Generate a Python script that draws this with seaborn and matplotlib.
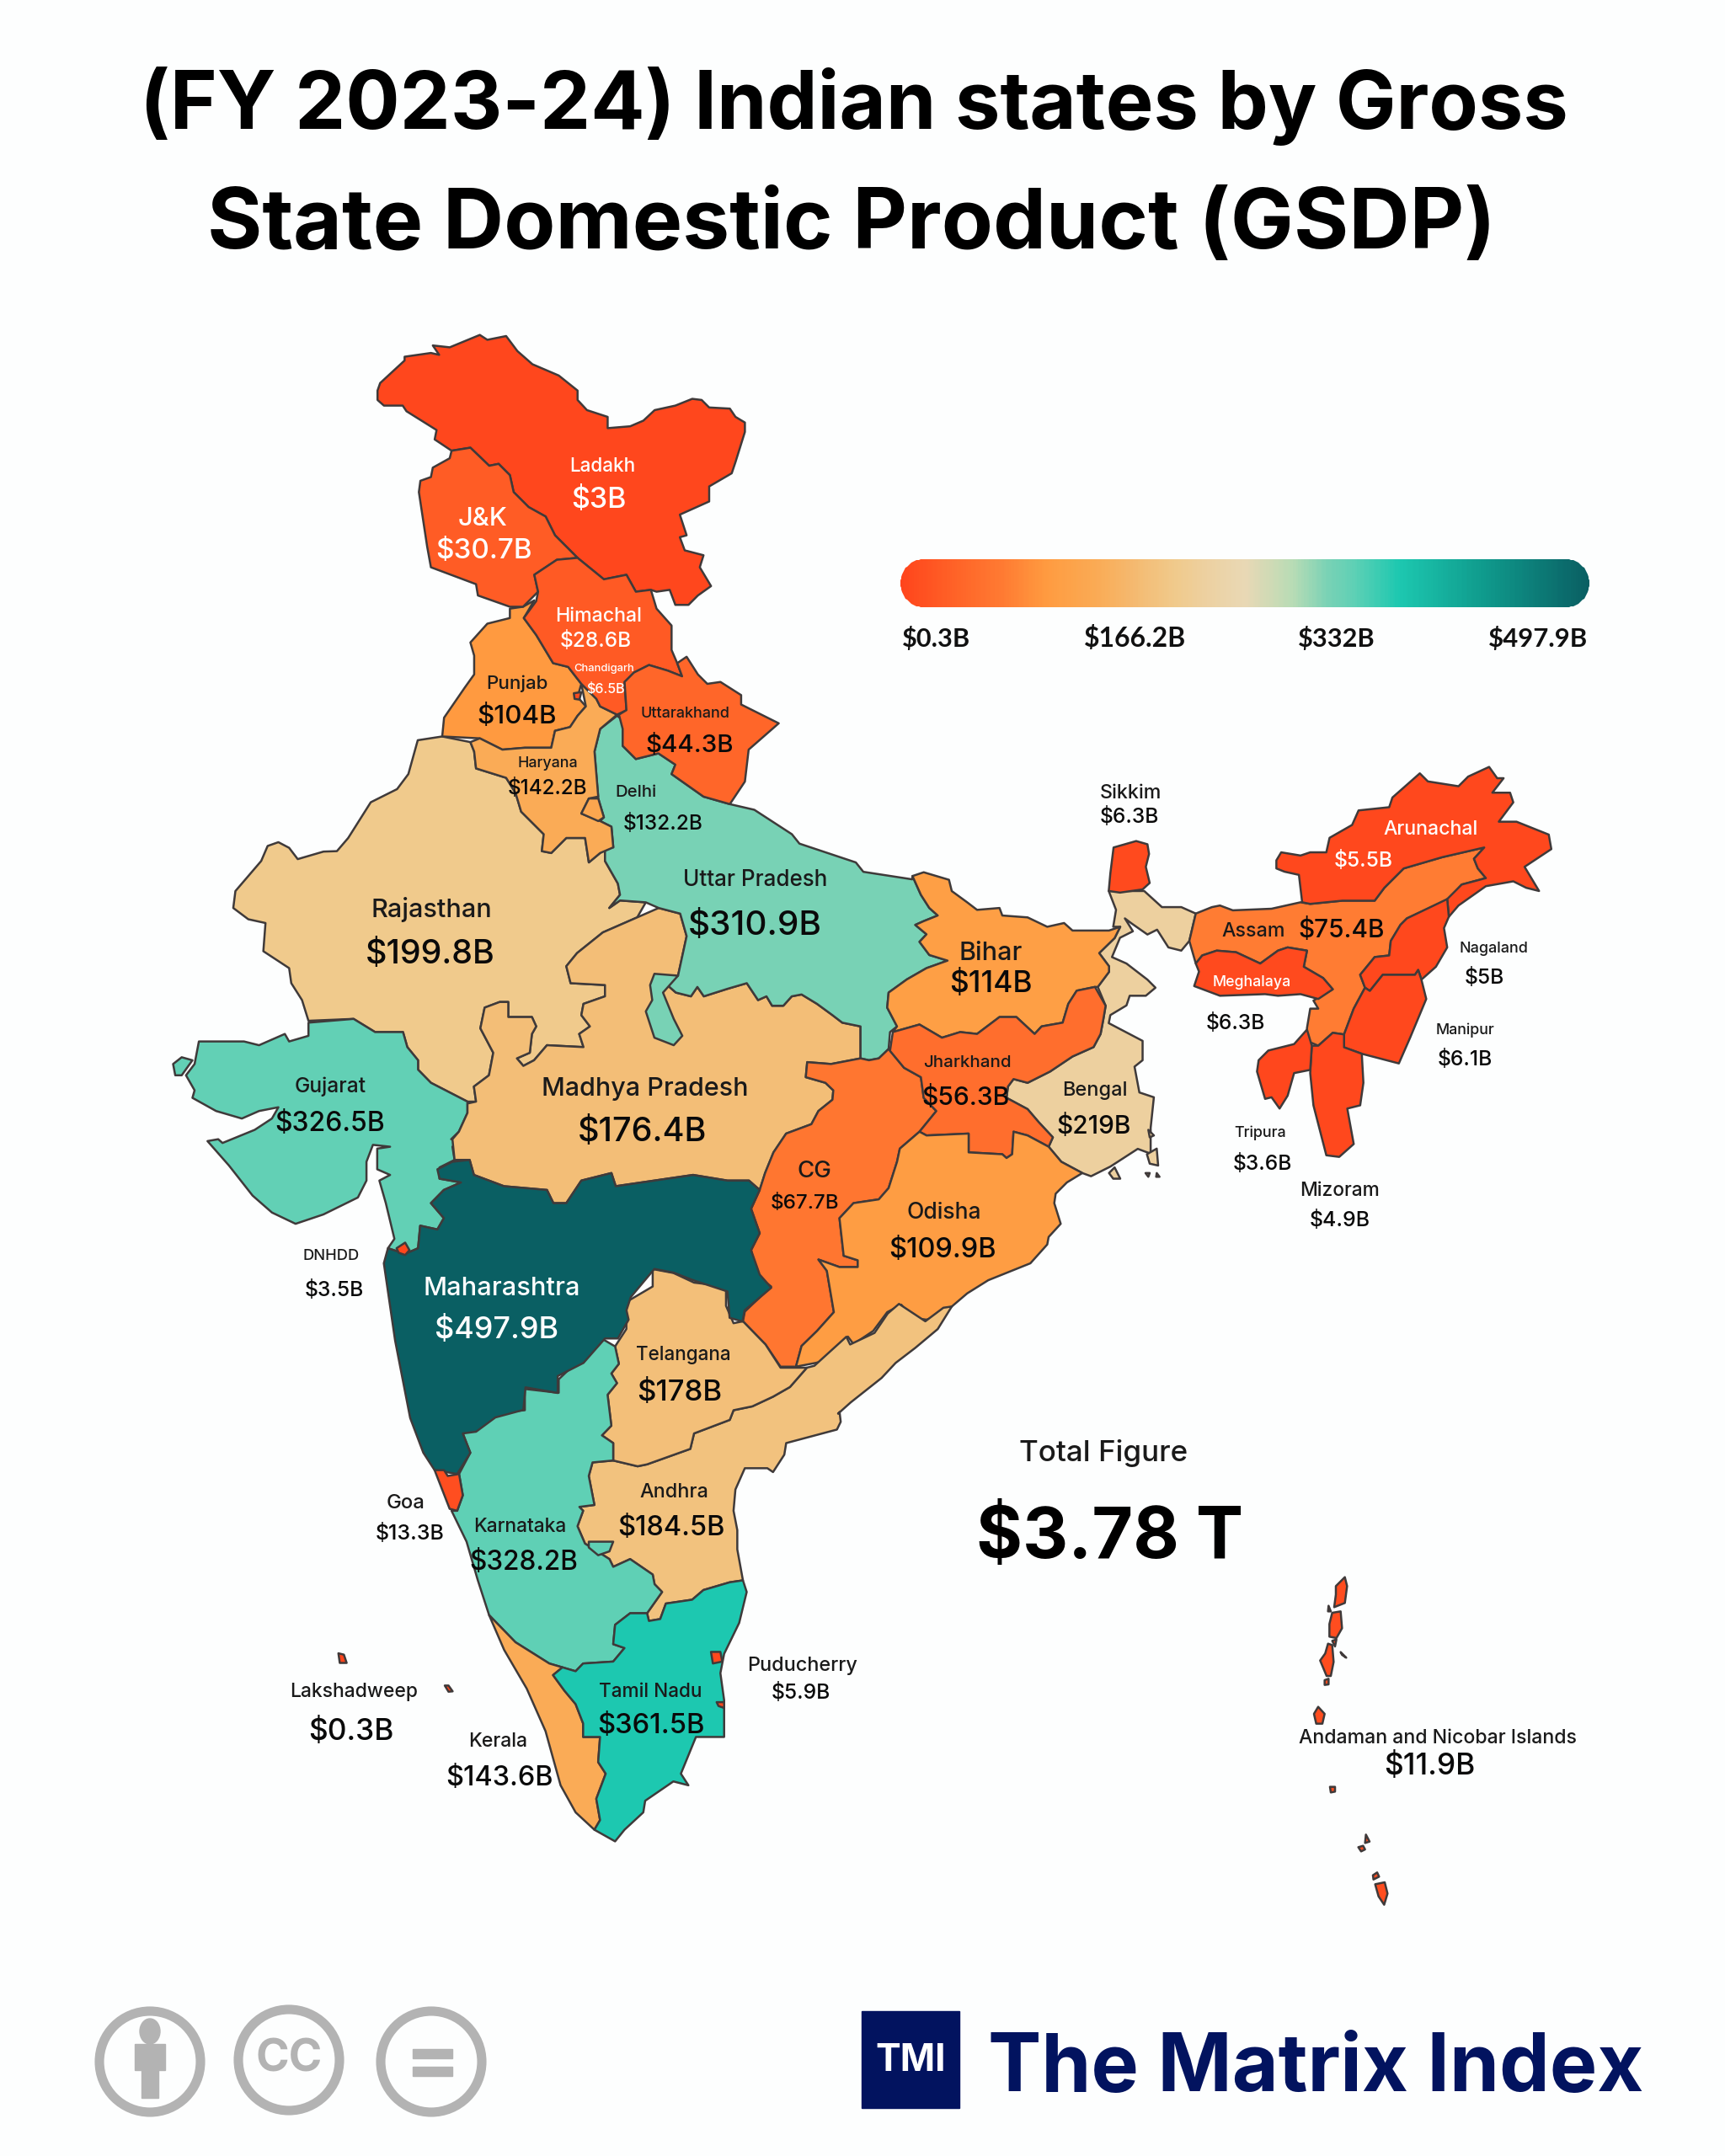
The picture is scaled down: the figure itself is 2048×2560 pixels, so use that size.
import numpy as np
import pandas as pd
import matplotlib
matplotlib.use("Agg")
import matplotlib.pyplot as plt
import seaborn as sns
from matplotlib.colors import LinearSegmentedColormap, Normalize
from matplotlib.patches import Circle, Rectangle, Ellipse
from matplotlib.path import Path
from matplotlib.transforms import IdentityTransform

# ---------------- data ----------------
STATE_NAMES = ["Ladakh", "J&K", "Himachal", "Chandigarh", "Punjab", "Uttarakhand", "Haryana", "Delhi",
               "Uttar Pradesh", "Rajasthan", "Bihar", "Sikkim", "Arunachal", "Assam", "Meghalaya",
               "Nagaland", "Manipur", "Gujarat", "Madhya Pradesh", "Jharkhand", "Bengal", "CG", "Tripura",
               "Mizoram", "Odisha", "DNHDD", "Maharashtra", "Telangana", "Andhra", "Goa", "Karnataka",
               "Lakshadweep", "Puducherry", "Tamil Nadu", "Kerala", "Andaman and Nicobar Islands"]
GSDP_VALUES = [3, 30.7, 28.6, 6.5, 104, 44.3, 142.2, 132.2,
               310.9, 199.8, 114, 6.3, 5.5, 75.4, 6.3,
               5, 6.1, 326.5, 176.4, 56.3, 219, 67.7, 3.6,
               4.9, 109.9, 3.5, 497.9, 178, 184.5, 13.3, 328.2,
               0.3, 5.9, 361.5, 143.6, 11.9]
TITLE_LINES = ["(FY 2023-24) Indian states by Gross", "State Domestic Product (GSDP)"]
LEGEND_TICKS = ["$0.3B", "$166.2B", "$332B", "$497.9B"]
TOTAL_LABEL = "Total Figure"
TOTAL_VALUE = "$3.78 T"
LEGEND_MIN, LEGEND_MAX = 0.3, 497.9
CMAP_STOPS = [(0, "#FF451C"), (0.08, "#FF6428"), (0.15, "#FF7C33"), (0.21, "#FF9B40"), (0.285, "#FAAB55"),
              (0.354, "#F3BE78"), (0.40, "#F0CA8C"), (0.44, "#EDD09F"), (0.5, "#E9D8B5"), (0.57, "#B8DCB5"),
              (0.62, "#7AD2B5"), (0.66, "#5ED0B5"), (0.725, "#1DC8B0"), (0.85, "#0F9A8C"), (1, "#0A5F63")]

# ---------------- map geometry: traced outlines, each in a local tracing frame ----------------
FRAMES = {"Z1": (400, 370, 2.24, 2.24), "Z2": (180, 1000, 1.96, 2.24), "Z3": (420, 1500, 2.24, 2.178),
          "Z4": (900, 1000, 3, 2.24), "Z5": (1280, 880, 2.613, 2.613), "Z8": (1480, 1850, 3, 3),
          "D": (0, 0, 0.6123, 0.6123)}

def ring(*segs):
    out = []
    for f, pts in zip(segs[0::2], segs[1::2]):
        x0, y0, sx, sy = FRAMES[f]
        out += [(x0 + a / sx, y0 + b / sy) for a, b in pts]
    return np.array(out)

OUTLINES = {
"Rajasthan": [ring("Z2", [(295,0),(270,10),(255,50),(195,130),(190,175),(225,205),(265,215),(260,290),(320,335),(325,375),(350,420),(365,475),(470,470),(520,505),(585,505),(595,545),(620,580),(620,605),(650,640),(735,690),(755,690),(750,650),(785,620),(795,560),(765,495),(775,440),(810,425),(830,425),(830,465),(885,465),(895,490),(885,510),(880,560),(850,575),(865,595),(890,580),(920,540),(1005,545),(995,510),(1020,490),(1000,460),(1005,430),(1055,410),(1055,380),(975,375),(965,330),(990,295),(1050,240),(1130,200),(1150,160),(1090,155),(1065,175),(1090,140),(1085,110),(1055,50),(1055,0)],
    "Z1", [(700,1440),(670,1465),(660,1400),(610,1400),(570,1440),(545,1435),(550,1390),(490,1330),(475,1280),(450,1240),(370,1215),(365,1170),(355,1145),(280,1130),(215,1140),(190,1230),(160,1270),(90,1305),(30,1400),(0,1435)],
    "Z2", [(400,25),(340,45),(320,15)])],
"Gujarat": [ring("Z2", [(365,480),(470,470),(520,505),(585,505),(595,545),(620,580),(620,605),(650,640),(735,690),(735,720),(715,770),(697,790),(715,795),(700,810),(705,845),(670,865),(670,895),(720,905),(680,925),(650,960),(680,1000),(665,1030),(625,1020),(620,1080),(590,1095),(550,1080),(565,1055),(545,960),(530,900),(555,885),(525,870),(525,815),(555,810),(515,805),(500,850),(500,900),(480,945),(400,990),(335,1015),(280,985),(235,940),(180,860),(130,795),(155,790),(165,800),(240,765),(280,735),(295,705),(250,715),(210,735),(150,715),(95,680),(100,660),(80,620),(100,590),(110,530),(215,530),(250,540),(310,510),(320,530),(365,515)]),
    ring("Z2", [(50,590),(70,572),(95,580),(70,620),(55,620)])],
"Madhya Pradesh": [ring("Z2", [(1230,190),(1180,175),(1130,200),(1050,240),(990,295),(965,330),(975,375),(1055,380),(1055,410),(1005,430),(1000,460),(1020,490),(995,510),(1005,545),(920,540),(890,580),(865,595),(850,575),(880,560),(885,510),(895,490),(885,465),(830,465),(830,425),(810,425),(775,440),(765,495),(795,560),(785,620),(750,650),(755,690),(735,695),(735,720),(715,770),(700,790),(705,845),(740,845),(750,885),(820,915),(920,925),(935,960),(965,960),(1000,900),(1070,880),(1080,915),(1170,900),(1260,885),(1340,900),(1390,900),(1415,925)],
    "Z4", [(25,880),(55,825),(100,775),(190,750),(215,715),(265,685),(268,660),(240,640),(170,625),(175,585),(260,590),(365,575),(365,490),(300,480),(265,460),(210,430),(155,405),(120,410),(90,435),(50,435),(30,410),(0,420)],
    "Z2", [(1385,375),(1340,390),(1285,410),(1270,385),(1255,410),(1220,400),(1195,375),(1225,355),(1245,250)])],
"Uttar Pradesh": [ring("Z1", [(745,1075),(780,1100),(760,1115),(760,1155),(795,1190),(855,1175),(900,1205),(890,1230),(975,1290),(1045,1310),(1110,1325),(1210,1390),(1230,1415),(1380,1465),(1400,1490),(1530,1510)],
    "Z4", [(550,90),(580,140),(610,175),(640,195),(590,210),(560,220),(600,245),(575,265),(610,300),(675,315),(600,335),(530,365),(465,400),(460,440),(495,490),(470,505),(465,550),(430,575),(395,580),(365,575),(365,490),(300,480),(265,460),(210,430),(155,405),(120,410),(90,435),(50,435),(30,410),(0,420)],
    "Z2", [(1385,375),(1340,390),(1285,410),(1270,385),(1255,410),(1220,400),(1195,375),(1225,355),(1245,250),(1230,190),(1180,175),(1150,160),(1090,155),(1065,175),(1090,140),(1085,110),(1055,50),(1055,0)],
    "Z1", [(735,1425),(730,1370),(700,1355),(710,1345),(695,1295),(685,1170),(700,1110)]),
    ring("Z2", [(1225,355),(1170,350),(1160,380),(1165,420),(1150,450),(1170,520),(1215,540),(1235,515),(1215,470),(1190,400)])],
"Punjab": [ring("Z1", [(460,790),(495,785),(525,768),(497,815),(530,860),(575,935),(615,945),(650,990),(640,1025),(662,1050),(640,1075),(620,1105),(580,1115),(570,1160),(500,1160),(440,1165),(380,1135),(280,1130),(285,1080),(340,1000),(365,965),(365,915),(355,880),(400,830),(460,815)])],
"Haryana": [ring("Z1", [(650,990),(690,1030),(700,1050),(745,1072),(700,1110),(685,1170),(695,1290),(670,1295),(650,1335),(700,1355),(730,1370),(735,1425),(700,1440),(670,1465),(660,1400),(610,1400),(570,1440),(545,1435),(550,1390),(490,1330),(475,1280),(450,1240),(370,1215),(365,1170),(355,1145),(380,1135),(440,1165),(500,1160),(570,1160),(580,1115),(620,1105),(640,1075),(662,1050)])],
"Delhi": [ring("Z1", [(670,1295),(695,1295),(710,1345),(695,1355),(650,1335)])],
"Ladakh": [ring("Z1", [(108,210),(115,190),(180,130),(180,120),(250,110),(272,115),(255,90),(300,95),(380,62),(400,75),(450,65),(480,105),(520,140),(590,170),(640,210),(640,235),(665,262),(720,280),(720,310),(780,305),(815,290),(845,262),(900,250),(945,232),(970,235),(990,255),(1045,258),(1060,280),(1085,295),(1085,320),(1060,400),(1050,430),(990,465),(990,505),(912,540),(930,595),(912,600),(925,635),(975,648),(965,680),(995,730),(960,755),(935,780),(900,780),(885,740),(850,745),(835,740),(795,745),(770,700),(710,712),(640,655),(580,595),(555,545),(510,520),(470,480),(460,435),(430,405),(405,410),(355,362),(305,370),(260,340),(265,315),(185,265),(175,250),(125,250),(108,235)])],
"J&K": [ring("Z1", [(305,370),(355,362),(405,410),(430,405),(460,435),(470,480),(510,520),(555,545),(580,595),(640,655),(585,660),(525,700),(535,745),(495,785),(460,785),(375,755),(370,725),(250,680),(240,625),(218,480),(222,450),(250,440),(255,415),(300,390)])],
"Himachal": [ring("Z1", [(640,655),(710,712),(770,700),(795,745),(835,740),(850,790),(890,835),(890,900),(905,935),(918,970),(880,955),(830,940),(790,960),(765,985),(770,1060),(745,1072),(700,1050),(690,1030),(650,990),(615,945),(575,935),(530,860),(497,815),(530,770),(535,745),(525,700),(585,660)])],
"Chandigarh": [ring("Z1", [(630,1015),(650,1012),(645,1032),(632,1030)])],
"Uttarakhand": [ring("Z1", [(765,985),(790,960),(830,940),(880,955),(918,970),(905,935),(930,918),(960,965),(985,990),(1020,985),(1075,1020),(1075,1045),(1175,1095),(1095,1165),(1085,1250),(1045,1310),(975,1290),(890,1230),(900,1205),(855,1175),(795,1190),(760,1155),(760,1110),(750,1072),(770,1060)])],
"Bengal": [ring("Z5", [(95,465),(205,465),(260,515),(320,515),(365,535),(345,620),(320,650),(280,640),(245,585),(215,600),(165,565),(145,550),(170,590),(130,610),(105,670),(150,690),(215,740),(240,765),(210,790),(160,790),(150,820),(100,850),(95,875),(200,930),(200,990),(175,1010),(190,1090),(235,1105),(225,1200),(225,1280),(185,1265),(100,1320),(40,1350)],
    "Z4", [(1155,880),(1080,850),(1035,810),(1050,785),(1000,745),(960,710),(885,680),(890,650),(910,630),(960,640),(1040,610),(1120,570),(1195,545),(1220,510),(1230,470),(1238,435),(1210,385),(1250,345),(1250,330),(1215,295),(1270,255),(1290,225),(1265,225),(1275,180)]),
    ring("Z4", [(1250,880),(1270,865),(1290,895),(1265,895)]), ring("Z4", [(1385,830),(1420,815),(1425,860),(1395,855)]),
    ring("Z4", [(1390,765),(1410,780),(1395,785)]), ring("Z4", [(1380,880),(1395,880),(1390,890)]), ring("Z4", [(1420,880),(1430,890),(1418,890)])],
"Bihar": [ring("Z4", [(550,90),(590,80),(680,100),(690,130),(745,160),(780,180),(860,175),(870,195),(960,200),(1030,225),(1090,215),(1120,235),(1250,235),(1290,225),(1270,255),(1215,295),(1250,330),(1250,345),(1210,385),(1200,385),(1135,395),(1105,430),(1085,480),(1010,490),(985,510),(920,465),(860,465),(780,510),(720,505),(655,520),(575,485),(480,505),(495,490),(460,440),(465,400),(530,365),(600,335),(675,315),(610,300),(575,265),(600,245),(560,220),(590,210),(640,195),(610,175),(580,140)])],
"CG": [ring("Z4", [(175,585),(260,590),(365,575),(395,580),(430,575),(465,550),(520,600),(580,625),(590,680),(635,715),(575,770),(505,815),(495,850),(465,920),(430,950),(340,960),(290,1000),(305,1100),(355,1112),(355,1130),(290,1130),(215,1110),(245,1140),(270,1250),(210,1300),(155,1340),(135,1395),(80,1395)],
    "Z3", [(1095,210),(1035,150),(1040,125),(1110,60),(1075,35),(1065,0)],
    "Z2", [(1395,1085),(1415,1040),(1395,975),(1415,925)],
    "Z4", [(25,880),(55,825),(100,775),(190,750),(215,715),(265,685),(268,660),(240,640),(170,625)])],
"Jharkhand": [ring("Z4", [(470,555),(480,505),(575,485),(655,520),(720,505),(780,510),(860,465),(920,465),(985,510),(1010,490),(1085,480),(1105,430),(1135,395),(1200,385),(1238,435),(1230,470),(1220,510),(1195,545),(1120,570),(1040,610),(960,640),(910,630),(890,650),(885,680),(960,710),(1000,745),(1050,785),(1035,810),(960,780),(910,770),(905,830),(885,840),(870,830),(750,825),(750,775),(600,780),(575,770),(635,715),(590,680),(580,625),(520,600)])],
"Odisha": [ring("Z4", [(575,770),(600,780),(750,775),(750,825),(870,830),(885,840),(905,830),(910,770),(960,780),(1035,810),(1080,850),(1155,880),(1100,905),(1060,935),(1055,960),(1078,1015),(1035,1050),(1030,1070),(970,1120),(820,1165),(745,1200),(690,1235),(640,1260),(600,1270),(550,1265),(510,1230),(460,1250),(410,1300),(340,1335),(320,1315),(290,1370),(205,1385),(135,1395),(155,1340),(210,1300),(270,1250),(245,1140),(215,1110),(290,1130),(355,1130),(355,1112),(305,1100),(290,1000),(340,960),(430,950),(465,920),(495,850),(505,815)])],
"Andhra": [ring("Z3", [(1205,270),(1225,265),(1310,190),(1320,210),(1385,180),(1420,130),(1450,105),(1520,150),(1568,115)],
    "Z4", [(690,1235),(640,1295),(560,1345),(490,1385),(440,1425),(330,1490),(285,1520)],
    "Z3", [(1292,385),(1295,410),(1285,430),(1150,465),(1145,495),(1115,540),(1100,530),(1040,530),(1015,585),(1010,640),(1020,690),(1020,740),(1035,820),(1000,825),(930,845),(900,870),(830,880),(815,920),(785,925),(780,905),(820,850),(800,830),(795,805),(735,765),(690,785),(680,765),(615,725),(595,680),(610,640),(600,630),(640,625),(625,550),(635,515),(690,510),(755,525),(780,520),(895,480),(905,440),(1000,405),(1010,380),(1060,370),(1115,345),(1160,320)])],
"Telangana": [ring("Z3", [(795,15),(850,25),(905,50),(990,60),(990,110),(1010,155),(1035,150),(1095,210),(1135,270),(1205,270),(1160,320),(1115,345),(1060,370),(1010,380),(1000,405),(905,440),(895,480),(780,520),(755,525),(690,510),(690,465),(660,445),(685,420),(675,340),(700,310),(685,285),(705,260),(695,215),(725,170),(725,100),(795,60)])],
"Karnataka": [ring("Z3", [(660,195),(695,215),(705,260),(685,285),(700,310),(675,340),(685,420),(660,445),(690,465),(690,510),(635,515),(625,550),(640,625),(600,630),(610,640),(595,680),(615,725),(680,765),(690,785),(735,765),(795,805),(800,830),(820,850),(780,905),(735,905),(695,935),(690,985),(720,995),(690,1030),(610,1035),(590,1055),(555,1045),(520,1035),(430,980),(360,910),(330,820),(300,720),(260,640),(275,640),(290,600),(280,545),(310,490),(290,440),(400,385),(455,380),(455,325),(545,335),(545,300),(610,240),(620,230)]),
    ring("Z3", [(625,720),(690,720),(680,745),(650,755),(625,735)])],
"Maharashtra": [ring("Z2", [(665,870),(700,850),(740,845),(750,885),(820,915),(920,925),(935,960),(965,960),(1000,900),(1070,880),(1080,915),(1170,900),(1260,885),(1340,900),(1390,900),(1415,925),(1395,975),(1415,1040),(1395,1085),(1415,1150),(1442,1185),(1380,1245),(1375,1275),(1345,1265),(1340,1195),(1260,1165),(1215,1145),(1170,1135),(1115,1210),(1105,1245),(1110,1270),(1085,1320),(1055,1320),(1005,1385),(945,1420),(945,1465),(870,1450),(865,1510),(800,1530),(755,1568)],
    "Z3", [(290,440),(310,490),(275,545),(215,535),(185,490),(150,400),(110,200),(80,0)],
    "Z2", [(550,1080),(590,1095),(620,1080),(625,1020),(665,1030),(680,1000),(650,960),(680,925),(720,905),(670,895)])],
"Goa": [ring("Z3", [(215,535),(240,535),(250,550),(280,545),(290,600),(275,640),(255,635)])],
"Kerala": [ring("Z3", [(360,910),(430,980),(520,1035),(555,1045),(530,1065),(560,1105),(590,1140),(610,1190),(610,1225),(655,1225),(650,1290),(670,1320),(645,1385),(655,1440),(640,1465),(590,1420),(550,1350),(510,1210),(460,1100),(400,1000)])],
"Tamil Nadu": [ring("Z3", [(780,905),(785,925),(815,920),(830,880),(900,870),(930,845),(1000,825),(1035,820),(1045,850),(1025,930),(985,1010),(975,1060),(985,1130),(985,1225),(910,1225),(870,1320),(890,1350),(850,1340),(775,1390),(770,1420),(720,1465),(695,1495),(640,1465),(655,1440),(645,1385),(670,1320),(650,1290),(655,1225),(610,1225),(610,1190),(590,1140),(560,1105),(530,1065),(555,1045),(590,1055),(610,1035),(690,1030),(720,995),(690,985),(695,935),(735,905)])],
"Puducherry": [ring("Z3", [(950,1005),(975,1005),(980,1030),(955,1035)]), ring("Z3", [(965,1135),(985,1135),(985,1150),(970,1145)])],
"Assam": [ring("Z5", [(365,535),(415,515),(440,510),(480,525),(600,520),(690,500),(720,505),(820,495),(920,495),(950,455),(1010,395),(1130,360),(1260,330),(1228,365),(1240,395),(1265,425),(1190,445),(1150,490),(1020,550),(1000,570),(970,620),(965,665),(920,670),(875,725),(890,765),(855,830),(825,910),(790,905),(745,945),(710,930),(710,890),(720,830),(745,830),(730,805),(790,770),(760,735),(700,700),(710,650),(650,640),(620,650),(565,690),(490,655),(430,650),(385,665),(365,690),(345,620)])],
"Meghalaya": [ring("Z5", [(365,690),(385,665),(430,650),(490,655),(565,690),(620,650),(650,640),(710,650),(700,700),(760,735),(790,770),(745,800),(690,785),(620,790),(580,785),(440,790),(360,760),(375,715)])],
"Arunachal": [ring("Z5", [(615,370),(630,345),(690,355),(720,345),(770,345),(780,300),(850,260),(870,215),(965,205),(975,175),(1060,100),(1085,125),(1180,140),(1210,110),(1275,80),(1300,115),(1320,115),(1285,160),(1340,160),(1350,190),(1305,250),(1360,250),(1460,290),(1468,335),(1385,390),(1430,465),(1390,455),(1350,435),(1265,450),(1180,510),(1150,545),(1145,490),(1190,445),(1265,425),(1240,395),(1228,365),(1260,330),(1130,360),(1010,395),(950,455),(920,495),(820,495),(720,505),(695,500),(685,415),(640,405),(615,395)])],
"Nagaland": [ring("Z5", [(1145,490),(1150,545),(1135,580),(1145,640),(1110,700),(1065,740),(1055,710),(1045,725),(945,725),(905,775),(890,765),(875,725),(920,670),(965,665),(970,620),(1000,570),(1020,550)])],
"Manipur": [ring("Z5", [(945,725),(1045,725),(1055,710),(1065,740),(1080,800),(1030,920),(995,1000),(880,970),(825,950),(825,910),(855,830),(890,765),(905,775)])],
"Mizoram": [ring("Z5", [(725,945),(745,945),(790,905),(825,910),(825,950),(880,970),(885,1060),(875,1130),(835,1140),(855,1250),(810,1290),(770,1285),(730,1130),(720,1030)])],
"Tripura": [ring("Z5", [(710,895),(725,945),(720,1020),(670,1030),(650,1100),(625,1140),(600,1105),(580,1110),(555,1025),(560,990),(590,960),(670,940)])],
"Sikkim": [ring("Z5", [(110,330),(180,310),(215,320),(220,350),(210,390),(222,440),(200,460),(130,470),(95,465),(100,410)])],
"DNHDD": [ring("Z2", [(570,1080),(590,1065),(600,1085),(590,1098),(575,1092)])],
"Lakshadweep": [ring("Z3", [(242,1092),(252,1092),(263,1107),(252,1108)]), ring("D", [(246,1202),(250,1203),(252,1209),(247,1209)])],
"Andaman and Nicobar Islands": [ring("Z8", p) for p in [
    [(318,100),(350,68),(358,100),(350,160),(312,175),(318,130)],
    [(305,195),(335,190),(340,250),(320,285),(295,280),(295,235)],
    [(290,305),(305,310),(310,370),(300,420),(285,420),(262,365),(280,340)],
    [(305,295),(320,290),(315,315)], [(278,435),(292,430),(292,450),(278,452)],
    [(255,530),(278,555),(270,590),(248,590),(240,555)], [(297,815),(315,815),(315,832),(300,835)],
    [(425,985),(438,1010),(422,1015)], [(398,1030),(415,1025),(422,1038),(408,1045)],
    [(450,1130),(465,1120),(472,1135),(452,1145)], [(458,1162),(492,1155),(502,1195),(490,1235),(470,1205)],
    [(292,170),(300,190),(290,190)], [(335,335),(355,355),(340,345)]]],
}

# ---------------- label layout (centre x, y and target width in 1254-wide units) ----------------
WHITE_NAME = {"Ladakh", "J&K", "Himachal", "Chandigarh", "Arunachal", "Meghalaya", "Maharashtra"}
WHITE_VALUE = WHITE_NAME - {"Meghalaya"}
LAYOUT = {
"Ladakh": (438,339,48,435,364,40), "J&K": (351,377,36,352,401,70), "Himachal": (435,448,63,433,466,52),
"Chandigarh": (439,486,44,440,501,28), "Punjab": (376,497,45,376,521,58), "Uttarakhand": (498,519,65,501,542,64),
"Haryana": (398,555,44,398,573,58), "Delhi": (462,576,30,482,599,58), "Uttar Pradesh": (549,640,105,549,673,97),
"Rajasthan": (314,661,88,313,694,94), "Bihar": (720,693,46,720,715,60), "Sikkim": (822,577,45,821,594,43),
"Arunachal": (1040,603,69,991,626,43), "Assam": (911,677,46,975,676,63), "Meghalaya": (910,714,57,898,744,43),
"Nagaland": (1086,690,50,1079,711,29), "Manipur": (1065,749,43,1065,770,40), "Gujarat": (240,790,52,240,817,80),
"Madhya Pradesh": (469,792,150,467,823,94), "Jharkhand": (703,773,64,702,798,64), "Bengal": (796,793,47,795,819,54),
"CG": (592,852,25,585,875,50), "Tripura": (916,824,38,918,846,43), "Mizoram": (974,866,58,974,887,44),
"Odisha": (686,882,54,685,909,78), "DNHDD": (241,913,41,243,938,43), "Maharashtra": (365,937,114,361,967,90),
"Telangana": (497,985,69,494,1013,62), "Andhra": (490,1085,50,488,1111,78), "Goa": (295,1093,28,298,1115,50),
"Karnataka": (378,1110,68,381,1136,79), "Lakshadweep": (257,1230,93,255,1259,62), "Puducherry": (583,1211,80,582,1231,43),
"Tamil Nadu": (473,1230,75,473,1255,78), "Kerala": (362,1266,43,363,1293,78),
"Andaman and Nicobar Islands": (1045,1264,202,1039,1284,66),
}
D2F = 2048 / 1254
LABEL_FONT = ["Inter", "DejaVu Sans"]
BRAND = "#02135F"
GREY = "#B3B3B3"
EDGE = "#3F3A3A"

# ---------------- draw ----------------
sns.set_theme(style="white")
plt.rcParams["font.family"] = LABEL_FONT

fig = plt.figure(figsize=(20.48, 25.6), dpi=100, facecolor="#FDFEFE")
ax = fig.add_axes([0, 0, 1, 1])
ax.set_xlim(0, 2048)
ax.set_ylim(2560, 0)
ax.axis("off")
renderer = fig.canvas.get_renderer()

df = pd.DataFrame({"state": STATE_NAMES, "gsdp": GSDP_VALUES}).set_index("state")
cmap = LinearSegmentedColormap.from_list("gsdp", CMAP_STOPS)
norm = Normalize(LEGEND_MIN, LEGEND_MAX)

def fit(t, width):
    w = t.get_window_extent(renderer).width
    t.set_fontsize(t.get_fontsize() * width / w)
    return t

def label(x, y, s, width, **kw):
    t = ax.text(x, y, s, ha=kw.pop("ha", "center"), va=kw.pop("va", "center"), fontsize=20, **kw)
    return fit(t, width)

for state, rings in OUTLINES.items():
    colour = cmap(norm(df.loc[state, "gsdp"]))
    for xy in rings:
        ax.fill(xy[:, 0], xy[:, 1], facecolor=colour, edgecolor=EDGE, linewidth=1.8, joinstyle="round")

for state, (nx, ny, nw, vx, vy, vw) in LAYOUT.items():
    value = f"${df.loc[state, 'gsdp']:g}B"
    label(nx * D2F, ny * D2F, state, nw * D2F, fontweight=500,
          color="white" if state in WHITE_NAME else "#1A1A1A", zorder=5)
    label(vx * D2F, vy * D2F, value, vw * D2F, fontweight=500,
          color="white" if state in WHITE_VALUE else "#0A0A0A", zorder=5)

# title
label(1014, 153, TITLE_LINES[0], 1698, va="baseline", fontweight="bold", color="black")
label(1011, 295, TITLE_LINES[1], 1530, va="baseline", fontweight="bold", color="black")

# total
label(1310, 1725, TOTAL_LABEL, 200, fontweight=500, color="#1A1A1A")
label(1318, 1827, TOTAL_VALUE, 317, fontweight="bold", color="black")

# colour legend drawn as a one-row seaborn heatmap with rounded ends
bx0, bx1, by0, by1 = 1069, 1887, 664, 721
cax = fig.add_axes([bx0 / 2048, 1 - by1 / 2560, (bx1 - bx0) / 2048, (by1 - by0) / 2560])
gradient = np.linspace(LEGEND_MIN, LEGEND_MAX, 400)[None, :]
sns.heatmap(gradient, ax=cax, cmap=cmap, norm=norm, cbar=False, xticklabels=False, yticklabels=False)
rad = (by1 - by0) / 2
cyd = 2560 - (by0 + by1) / 2
theta = np.linspace(-np.pi / 2, np.pi / 2, 40)
px = np.r_[bx1 - rad + rad * np.cos(theta), bx0 + rad - rad * np.cos(theta[::-1])]
py = np.r_[cyd + rad * np.sin(theta), cyd + rad * np.sin(theta[::-1])]
cax.collections[0].set_clip_path(Path(np.c_[px, py], closed=False), IdentityTransform())
cax.axis("off")
for s, x0, w in zip(LEGEND_TICKS, [1071, 1287, 1541, 1767], [81, 121, 91, 118]):
    label(x0, 758, s, w, ha="left", family=["Lato", "DejaVu Sans"], fontweight="bold", color="#111111")

# licence badges and brand block
for cx, cy in [(178, 2448), (343, 2446), (512, 2448)]:
    ax.add_patch(Circle((cx, cy), 60, fill=False, edgecolor=GREY, linewidth=8))
ax.add_patch(Ellipse((178, 2412), 24, 30, color=GREY))
ax.add_patch(Rectangle((160, 2427), 36, 31, color=GREY))
ax.add_patch(Rectangle((168, 2458), 20, 33, color=GREY))
label(343, 2445, "CC", 79, fontweight="bold", color=GREY)
ax.add_patch(Rectangle((490, 2433), 47, 11, color=GREY))
ax.add_patch(Rectangle((490, 2454), 47, 11, color=GREY))
ax.add_patch(Rectangle((1023, 2388), 116, 115, color=BRAND))
label(1081, 2447, "TMI", 84, fontweight="bold", color="white")
label(1173, 2483, "The Matrix Index", 780, ha="left", va="baseline", fontweight="bold", color=BRAND)

fig.savefig("out.png", dpi=100, facecolor=fig.get_facecolor())
